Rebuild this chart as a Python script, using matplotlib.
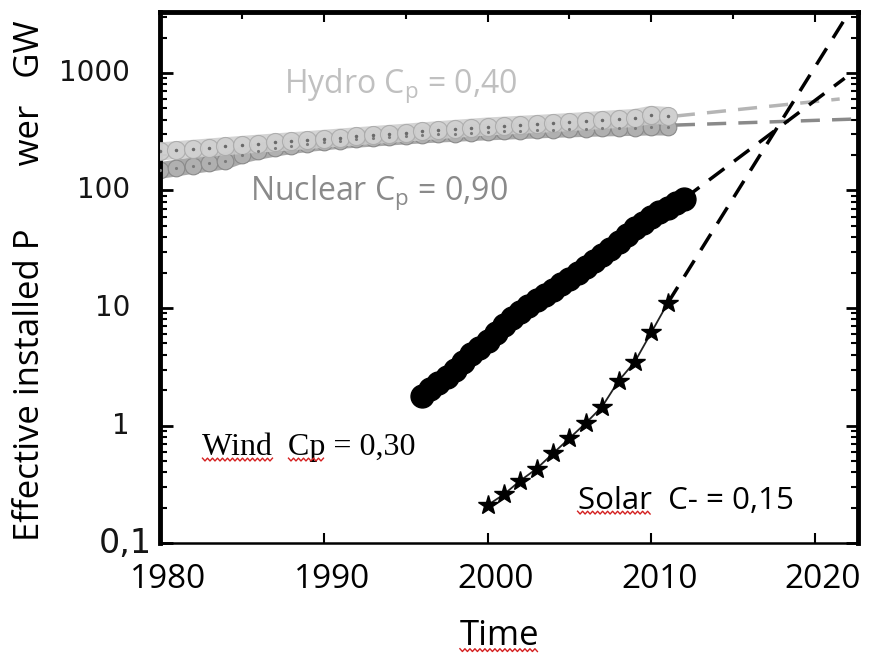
import numpy as np
import matplotlib
matplotlib.use("Agg")
import matplotlib.pyplot as plt
import matplotlib.transforms as mtransforms
from matplotlib.ticker import LogLocator, NullFormatter, FixedLocator, MultipleLocator
from matplotlib.lines import Line2D

# ---------------- data ----------------
wind_years = [1996, 1996.5, 1997, 1997.5, 1998, 1998.5, 1999, 1999.5, 2000, 2000.5,
              2001, 2001.5, 2002, 2002.5, 2003, 2003.5, 2004, 2004.5, 2005, 2005.5,
              2006, 2006.5, 2007, 2007.5, 2008, 2008.5, 2009, 2009.5, 2010, 2010.5,
              2011, 2011.5, 2012]
wind_vals = [1.8, 2.05, 2.3, 2.6, 3.0, 3.5, 4.1, 4.6, 5.2, 6.1,
             7.2, 8.2, 9.3, 10.4, 11.7, 12.9, 14.3, 15.9, 17.7, 19.8,
             22.2, 25.0, 28.2, 32.0, 36.3, 41.6, 47.7, 53.0, 59.4, 65.0,
             71.4, 78.0, 85.0]

solar_years = [2000, 2001, 2002, 2003, 2004, 2005, 2006, 2007, 2008, 2009, 2010, 2011]
solar_vals = [0.21, 0.26, 0.34, 0.43, 0.58, 0.78, 1.05, 1.45, 2.4, 3.5, 6.2, 11.0]

band_years = list(range(1980, 2012))
hydro_vals = [215, 220, 226, 232, 238, 244, 250, 256, 262, 268, 275, 282, 289, 296, 303, 310,
              318, 326, 334, 342, 350, 356, 362, 368, 375, 382, 390, 398, 406, 414, 440, 430]
nuclear_vals = [148, 155, 163, 170, 178, 200, 215, 228, 240, 250, 258, 266, 272, 278, 284, 290,
                296, 301, 305, 310, 314, 318, 322, 326, 330, 333, 336, 339, 341, 343, 346, 345]

# dashed projections (start, end)
wind_proj_x = [2012, 2021.8]
wind_proj_y = [85, 900]
solar_proj_x = [2011, 2022.6]
solar_proj_y = [11, 4300]
hydro_proj_x = [2011.5, 2021.5]
hydro_proj_y = [430, 600]
nuclear_proj_x = [2011.5, 2022.4]
nuclear_proj_y = [360, 405]

x_ticks = [1980, 1990, 2000, 2010, 2020]
x_ticklabels = ["1980", "1990", "2000", "2010", "2020"]
y_ticks = [1000, 100, 10, 1, 0.1]
y_ticklabels = ["1000", "100", "10", "1", "0,1"]

# ---------------- figure ----------------
fig = plt.figure(figsize=(8.69, 6.64), dpi=100)
ax = fig.add_axes([0.184, 0.182, 0.803, 0.800])
ax.set_yscale("log")
ax.set_xlim(1980, 2022.6)
ax.set_ylim(0.1, 3300)

# band: nuclear then hydro
ax.plot(band_years, nuclear_vals, linestyle="-", color="#a9a9a9", lw=12,
        solid_capstyle="round", marker="o", markersize=12, markerfacecolor="#b0b0b0",
        markeredgecolor="#8a8a8a", markeredgewidth=0.8, zorder=2)
ax.plot(band_years, hydro_vals, linestyle="-", color="#cdcdcd", lw=13,
        solid_capstyle="round", marker="o", markersize=13, markerfacecolor="#d0d0d0",
        markeredgecolor="#a8a8a8", markeredgewidth=0.8, alpha=0.85, zorder=3)
ax.plot(band_years, hydro_vals, linestyle="none", marker=".", markersize=3,
        color="#6a6a6a", zorder=4)
ax.plot(band_years, nuclear_vals, linestyle="none", marker=".", markersize=2.5,
        color="#7a7a7a", zorder=4)

# projections
dash = (5.5, 3.5)
ax.plot(hydro_proj_x, hydro_proj_y, color="#b5b5b5", lw=2.5, dashes=dash, zorder=2)
ax.plot(nuclear_proj_x, nuclear_proj_y, color="#8a8a8a", lw=2.5, dashes=dash, zorder=2)
ax.plot(wind_proj_x, wind_proj_y, color="black", lw=2.5, dashes=dash, zorder=2)
ax.plot(solar_proj_x, solar_proj_y, color="black", lw=2.5, dashes=dash, zorder=2)

# wind
ax.plot(wind_years, wind_vals, linestyle="none", marker="o", markersize=16.5,
        color="black", zorder=5)
# solar
ax.plot(solar_years, solar_vals, linestyle="-", color="#222222", lw=1.3,
        marker="*", markersize=15, markerfacecolor="black",
        markeredgecolor="black", zorder=5)

# annotations
ax.text(1987.6, 775, "Hydro C$_\\mathregular{p}$ = 0,40", fontsize=23,
        color="#c0c0c0", family="Open Sans", ha="left", va="center")
ax.text(1985.5, 96, "Nuclear C$_\\mathregular{p}$ = 0,90", fontsize=23,
        color="#8a8a8a", family="Open Sans", ha="left", va="center")
wind_props = dict(fontsize=23, color="black", family="Liberation Serif",
                  ha="left", va="center")
t_wind = ax.text(1982.6, 0.66, "Wind  Cp = 0,30", **wind_props)
solar_props = dict(fontsize=22.5, color="black", family="Open Sans",
                   ha="left", va="center")
t_solar = ax.text(2005.5, 0.23, "Solar  C- = 0,15", **solar_props)

# ticks
ax.xaxis.set_major_locator(FixedLocator(x_ticks))
ax.xaxis.set_minor_locator(MultipleLocator(5))
ax.set_xticklabels(x_ticklabels, family="Open Sans", fontsize=24)
ax.tick_params(axis="x", which="major", direction="in", length=7, width=1.5,
               top=True, bottom=True, pad=14)
ax.tick_params(axis="x", which="minor", direction="in", length=5, width=1.5,
               top=True, bottom=False)
shift = mtransforms.ScaledTranslation(8 / 100, 0, fig.dpi_scale_trans)
for lab in ax.get_xticklabels():
    lab.set_transform(lab.get_transform() + shift)
ax.set_yticks(y_ticks)
ax.yaxis.set_minor_locator(LogLocator(base=10, subs=np.arange(2, 10), numticks=10))
ax.yaxis.set_minor_formatter(NullFormatter())
ax.set_yticklabels([])
ax.tick_params(axis="y", which="major", direction="in", length=9, width=2,
               left=True, right=True)
ax.tick_params(axis="y", which="minor", direction="in", length=5, width=1.5,
               left=True, right=True)
ytr = ax.get_yaxis_transform()
for v, lab in zip(y_ticks, y_ticklabels):
    xoff = -0.043 if v != 0.1 else -0.012
    fs = 20 if v != 0.1 else 24
    ax.text(xoff, v, lab, transform=ytr, ha="right", va="center",
            family="DejaVu Sans", fontsize=fs, color="#151515")

for side in ["left", "top", "right"]:
    ax.spines[side].set_linewidth(3.5)
ax.spines["bottom"].set_linewidth(1.8)

xl = ax.set_xlabel("Time", family="Open Sans", fontsize=25)
ax.xaxis.set_label_coords(0.487, -0.143)
fig.text(0.035, 0.578, "Effective installed P       wer   GW", rotation=90,
         ha="center", va="center", family="Open Sans", fontsize=25)

# ---- red spell-check squiggles ----
fig.canvas.draw()
renderer = fig.canvas.get_renderer()


def text_width(s, props):
    t = ax.text(0, 1, s, transform=ax.transAxes, **props)
    w = t.get_window_extent(renderer).width
    t.remove()
    return w


def squiggle(x0, x1, y):
    xs = np.arange(x0, x1 + 0.1, 2.5)
    ys = y + np.where(np.arange(len(xs)) % 2 == 0, 1.4, -1.4)
    fig.add_artist(Line2D(xs, ys, transform=None, color="#d42020", lw=1.0))


bb = t_wind.get_window_extent(renderer)
w_wind = text_width("Wind", wind_props)
w_to_cp = text_width("Wind  Cp", wind_props)
w_cp = text_width("Cp", wind_props)
squiggle(bb.x0, bb.x0 + w_wind, bb.y0 + 2)
squiggle(bb.x0 + w_to_cp - w_cp, bb.x0 + w_to_cp, bb.y0 + 2)

bb = t_solar.get_window_extent(renderer)
w_sol = text_width("Solar", solar_props)
squiggle(bb.x0, bb.x0 + w_sol, bb.y0 + 3)

bb = xl.get_window_extent(renderer)
squiggle(bb.x0, bb.x1, bb.y0 + 3)

fig.savefig("out.png", dpi=100)
